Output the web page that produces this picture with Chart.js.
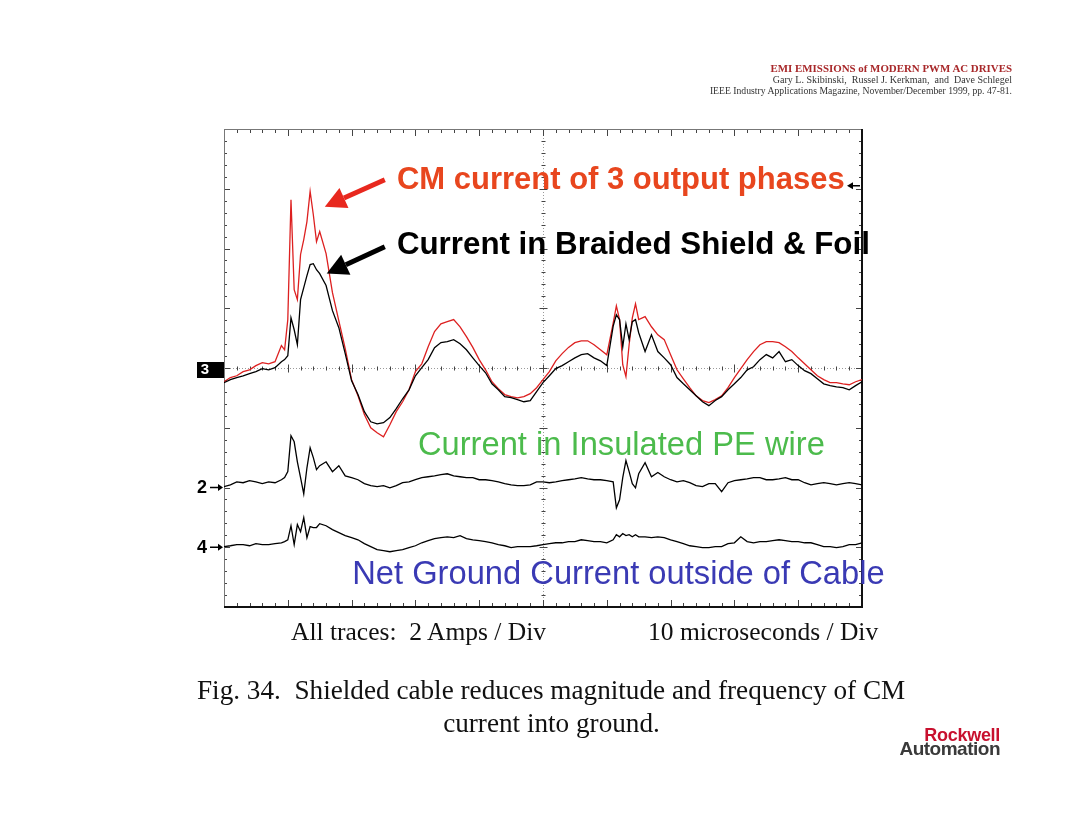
<!DOCTYPE html>
<html>
<head>
<meta charset="utf-8">
<script src="https://cdn.jsdelivr.net/npm/chart.js@4"></script>
<style>
  html, body { margin: 0; padding: 0; background: #fff; }
  #wrap { position: relative; width: 1080px; height: 834px; overflow: hidden; }
  #scope { position: absolute; left: 0; top: 0; }
  .txt { position: absolute; white-space: pre; line-height: 1; }
  .serif { font-family: "Liberation Serif", "Times New Roman", serif; }
  .sans { font-family: "Liberation Sans", Arial, sans-serif; }
</style>
</head>
<body>
<div id="wrap">
  <canvas id="scope" width="1080" height="834"></canvas>

  <div class="txt serif" style="right:68px; top:63px; font-size:10.9px; font-weight:bold; color:#a8282a;">EMI EMISSIONS of MODERN PWM AC DRIVES</div>
  <div class="txt serif" style="right:68px; top:74.5px; font-size:10px; color:#333;">Gary L. Skibinski,  Russel J. Kerkman,  and  Dave Schlegel</div>
  <div class="txt serif" style="right:68px; top:85.5px; font-size:9.7px; color:#333;">IEEE Industry Applications Magazine, November/December 1999, pp. 47-81.</div>

  <div class="txt serif" style="left:291px; top:619px; font-size:25.5px; color:#111;">All traces:  2 Amps / Div</div>
  <div class="txt serif" style="left:648px; top:619px; font-size:25.5px; color:#111;">10 microseconds / Div</div>

  <div class="txt serif" style="left:197px; top:677px; font-size:27.2px; color:#111;">Fig. 34.  Shielded cable reduces magnitude and frequency of CM</div>
  <div class="txt serif" style="left:0; width:1103px; text-align:center; top:710px; font-size:27.2px; color:#111;">current into ground.</div>

  <div class="txt sans" style="right:80px; top:726px; font-size:18px; font-weight:bold; color:#c8102e; letter-spacing:-0.3px;">Rockwell</div>
  <div class="txt sans" style="right:80px; top:739px; font-size:19px; font-weight:bold; color:#3a3a3a; letter-spacing:-0.5px;">Automation</div>
</div>

<script>
// time axis, microseconds (10 us / div, 10 divisions)
const times = [0,1,2,3,4,5,6,7,8,9,9.5,10,10.5,11,11.5,12,12.5,13,13.5,14,14.5,15,
  16,17,18,19,20,21,22,23,24,25,26,27,28,29,30,31,32,33,34,35,36,37,38,39,40,
  41,42,43,44,45,46,47,48,49,50,51,52,53,54,55,56,57,58,59,60,
  61,61.5,62,62.5,63,63.5,64,64.5,65,
  66,67,68,69,70,71,72,73,74,75,76,77,78,79,80,81,82,83,84,85,
  86,87,88,89,90,91,92,93,94,95,96,97,98,99,100];

// currents in amps
const cmCurrent = [-0.46,-0.32,-0.26,-0.12,-0.06,0.08,0.18,0.14,0.21,0.75,
  0.61,
  1.62,5.63,2.62,2.29,3.80,4.30,4.90,5.91,5.13,4.23,
  4.57,
  3.83,2.52,1.58,0.65,-0.39,-0.93,-1.56,-2.00,-2.17,-2.30,
  -1.90,-1.46,-1.13,-0.73,-0.12,0.14,0.71,1.22,1.48,1.55,
  1.62,1.38,1.05,0.69,0.28,-0.06,-0.46,-0.69,-0.89,-0.96,
  -1.00,-0.96,-0.86,-0.66,-0.39,-0.12,0.24,0.48,0.69,0.85,
  0.91,0.91,0.78,0.61,0.44,
  1.50,2.08,1.62,0.11,-0.29,0.78,1.68,2.15,
  1.62,
  1.72,1.38,1.11,0.95,0.44,-0.06,-0.36,-0.66,-0.93,-1.09,
  -1.16,-1.06,-0.93,-0.66,-0.32,-0.02,0.28,0.55,0.78,0.88,
  0.88,0.85,0.71,0.55,0.34,0.14,-0.06,-0.26,-0.39,-0.49,
  -0.49,-0.53,-0.56,-0.46,-0.39];

const shieldCurrent = [-0.49,-0.39,-0.32,-0.26,-0.19,-0.12,-0.02,-0.06,0.01,0.21,
  0.28,
  0.41,1.68,1.28,0.78,2.29,2.69,3.09,3.46,3.49,3.29,
  3.16,
  2.76,1.92,1.35,0.48,-0.43,-0.89,-1.46,-1.80,-1.87,-1.83,
  -1.66,-1.36,-1.03,-0.73,-0.26,0.01,0.28,0.68,0.85,0.88,
  0.95,0.81,0.61,0.34,0.08,-0.16,-0.53,-0.73,-0.96,-0.99,
  -1.06,-1.13,-1.09,-0.79,-0.49,-0.26,-0.02,0.08,0.21,0.34,
  0.45,0.48,0.34,0.24,0.08,
  1.40,1.78,1.62,0.71,1.48,0.95,1.55,1.62,
  1.18,
  0.55,1.11,0.55,0.34,0.11,-0.32,-0.53,-0.73,-0.93,-1.13,
  -1.26,-1.09,-0.96,-0.73,-0.53,-0.32,-0.06,0.04,0.28,0.45,
  0.34,0.55,0.21,0.28,0.08,-0.09,-0.19,-0.36,-0.53,-0.59,
  -0.63,-0.66,-0.73,-0.59,-0.46];

const peWireCurrent = [0.03,0.09,0.19,0.16,0.23,0.19,0.13,0.19,0.16,0.26,
  0.33,
  0.53,1.73,1.53,0.86,0.33,-0.21,0.66,1.33,1.00,0.60,
  0.73,
  0.86,0.53,0.73,0.39,0.33,0.26,0.13,0.06,0.03,0.06,
  -0.01,0.06,0.16,0.19,0.26,0.33,0.36,0.39,0.43,0.46,
  0.39,0.36,0.33,0.33,0.26,0.26,0.23,0.19,0.13,0.09,
  0.06,0.06,0.09,0.19,0.19,0.16,0.19,0.23,0.26,0.29,
  0.33,0.29,0.26,0.26,0.23,
  0.19,-0.68,-0.41,0.33,0.90,0.53,0.13,-0.01,
  0.46,
  0.83,0.36,0.50,0.36,0.26,0.19,0.23,0.16,0.06,0.03,
  0.13,0.13,-0.14,0.16,0.23,0.26,0.29,0.33,0.33,0.26,
  0.26,0.29,0.33,0.26,0.26,0.16,0.09,0.13,0.16,0.13,
  0.09,0.13,0.16,0.13,0.09];

const netGroundCurrent = [0.02,0.05,0.09,0.09,0.05,0.12,0.09,0.09,0.12,0.15,
  0.19,
  0.25,0.72,0.09,0.76,0.52,0.99,0.32,0.69,0.66,0.66,
  0.79,
  0.72,0.59,0.49,0.39,0.32,0.25,0.12,0.02,-0.08,-0.11,
  -0.15,-0.11,-0.08,-0.01,0.05,0.15,0.22,0.29,0.32,0.35,
  0.32,0.39,0.29,0.25,0.22,0.19,0.15,0.09,0.05,-0.01,
  0.02,0.02,0.02,0.05,0.09,0.12,0.15,0.15,0.19,0.19,
  0.25,0.22,0.19,0.19,0.15,
  0.25,0.42,0.35,0.46,0.39,0.42,0.35,0.42,
  0.35,
  0.35,0.32,0.35,0.32,0.25,0.19,0.12,0.05,0.02,-0.01,
  -0.01,0.02,0.02,0.12,0.15,0.35,0.19,0.15,0.19,0.19,
  0.22,0.25,0.22,0.19,0.19,0.15,0.15,0.09,0.02,0.02,
  -0.01,0.02,0.09,0.09,0.15];

// scope settings
const ampsPerDiv = 2;
const ch3Ref = 0;    // divisions from screen centre
const ch2Ref = -2;
const ch4Ref = -3;
const trigLevel = 3.05;

function trace(values, ref) {
  return times.map((t, i) => ({ x: t, y: ref + values[i] / ampsPerDiv }));
}

// labels and arrows, placed in (us, div) units
const labels = [
  { text: 'CM current of 3 output phases', t: 27.1, v: 3.0, font: 'bold 31px "Liberation Sans", Arial, sans-serif', color: '#e8461e' },
  { text: 'Current in Braided Shield & Foil', t: 27.1, v: 1.91, font: 'bold 31.3px "Liberation Sans", Arial, sans-serif', color: '#000' },
  { text: 'Current in Insulated PE wire', t: 30.4, v: -1.45, font: '32.7px "Liberation Sans", Arial, sans-serif', color: '#4cbb4c' },
  { text: 'Net Ground Current outside of Cable', t: 20.1, v: -3.61, font: '32.7px "Liberation Sans", Arial, sans-serif', color: '#3a3ab4' }
];
const arrows = [
  { from: [25.2, 3.15], to: [15.8, 2.70], color: '#e8281e' },
  { from: [25.2, 2.03], to: [16.1, 1.58], color: '#000' }
];

const scopeGrid = {
  id: 'scopeGrid',
  beforeDatasetsDraw(chart) {
    const { ctx, chartArea: a, scales: { x, y } } = chart;
    const seg = (x1, y1, x2, y2) => { ctx.moveTo(x1, y1); ctx.lineTo(x2, y2); };
    const cx = Math.round(x.getPixelForValue(50)) + 0.5;
    const cy = Math.round(y.getPixelForValue(0)) + 0.5;
    ctx.save();
    ctx.lineWidth = 1;

    ctx.strokeStyle = '#9a9a9a';
    ctx.setLineDash([1, 2]);
    ctx.beginPath();
    seg(a.left, cy, a.right, cy);
    seg(cx, a.top, cx, a.bottom);
    ctx.stroke();
    ctx.setLineDash([]);

    ctx.strokeStyle = '#444';
    ctx.beginPath();
    for (let k = 0; k <= 50; k++) {
      const px = Math.round(x.getPixelForValue(k * 2)) + 0.5;
      const major = k % 5 === 0;
      const len = major ? 7 : 4;
      seg(px, a.top, px, a.top + len);
      seg(px, a.bottom, px, a.bottom - len);
      seg(px, cy - (major ? 4 : 2), px, cy + (major ? 4 : 2));
    }
    for (let k = 0; k <= 40; k++) {
      const py = Math.round(y.getPixelForValue(-4 + k * 0.2)) + 0.5;
      const major = k % 5 === 0;
      const len = major ? 6 : 3;
      seg(a.left, py, a.left + len, py);
      seg(a.right, py, a.right - len, py);
      seg(cx - (major ? 4 : 2), py, cx + (major ? 4 : 2), py);
    }
    ctx.stroke();

    ctx.strokeStyle = '#777';
    ctx.beginPath();
    seg(a.left + 0.5, a.bottom, a.left + 0.5, a.top + 0.5);
    seg(a.left, a.top + 0.5, a.right, a.top + 0.5);
    ctx.stroke();
    ctx.strokeStyle = '#111';
    ctx.lineWidth = 2;
    ctx.beginPath();
    seg(a.right, a.top, a.right, a.bottom);
    seg(a.left, a.bottom, a.right + 1, a.bottom);
    ctx.stroke();
    ctx.restore();
  }
};

const scopeNotes = {
  id: 'scopeNotes',
  afterDatasetsDraw(chart) {
    const { ctx, scales: { x, y } } = chart;
    ctx.save();
    ctx.textBaseline = 'alphabetic';
    labels.forEach(l => {
      ctx.font = l.font;
      ctx.fillStyle = l.color;
      ctx.fillText(l.text, x.getPixelForValue(l.t), y.getPixelForValue(l.v));
    });
    arrows.forEach(ar => {
      const x1 = x.getPixelForValue(ar.from[0]), y1 = y.getPixelForValue(ar.from[1]);
      const x2 = x.getPixelForValue(ar.to[0]), y2 = y.getPixelForValue(ar.to[1]);
      const len = Math.hypot(x2 - x1, y2 - y1);
      const ux = (x2 - x1) / len, uy = (y2 - y1) / len;
      const hl = 21, hw = 11;
      const bx = x2 - ux * hl, by = y2 - uy * hl;
      ctx.strokeStyle = ar.color;
      ctx.fillStyle = ar.color;
      ctx.lineWidth = 5;
      ctx.beginPath();
      ctx.moveTo(x1, y1);
      ctx.lineTo(bx, by);
      ctx.stroke();
      ctx.beginPath();
      ctx.moveTo(x2, y2);
      ctx.lineTo(bx - uy * hw, by + ux * hw);
      ctx.lineTo(bx + uy * hw, by - ux * hw);
      ctx.closePath();
      ctx.fill();
    });
    ctx.restore();
  },
  afterDraw(chart) {
    const { ctx, chartArea: a, scales: { y } } = chart;
    ctx.save();
    // channel 3 ground marker
    const y3 = y.getPixelForValue(ch3Ref);
    ctx.fillStyle = '#000';
    ctx.fillRect(197, y3 - 6, a.left - 197, 16);
    ctx.fillStyle = '#fff';
    ctx.font = 'bold 15px "Liberation Sans", Arial, sans-serif';
    ctx.textAlign = 'center';
    ctx.textBaseline = 'middle';
    ctx.fillText('3', 205, y3 + 2);

    // channel 2 and 4 markers
    ctx.fillStyle = '#000';
    ctx.strokeStyle = '#000';
    ctx.font = 'bold 18px "Liberation Sans", Arial, sans-serif';
    ctx.textAlign = 'left';
    ctx.textBaseline = 'middle';
    [['2', ch2Ref], ['4', ch4Ref]].forEach(([n, ref]) => {
      const py = y.getPixelForValue(ref);
      ctx.fillText(n, 197, py + 1);
      ctx.lineWidth = 1.5;
      ctx.beginPath();
      ctx.moveTo(210, py);
      ctx.lineTo(a.left - 3, py);
      ctx.stroke();
      ctx.beginPath();
      ctx.moveTo(a.left - 1, py);
      ctx.lineTo(a.left - 6, py - 3.5);
      ctx.lineTo(a.left - 6, py + 3.5);
      ctx.closePath();
      ctx.fill();
    });

    // trigger level marker on the right edge
    const pt = y.getPixelForValue(trigLevel);
    ctx.lineWidth = 1.5;
    ctx.beginPath();
    ctx.moveTo(a.right - 2, pt);
    ctx.lineTo(a.right - 12, pt);
    ctx.stroke();
    ctx.beginPath();
    ctx.moveTo(a.right - 15, pt);
    ctx.lineTo(a.right - 9, pt - 3.5);
    ctx.lineTo(a.right - 9, pt + 3.5);
    ctx.closePath();
    ctx.fill();
    ctx.restore();
  }
};

const ctx = document.getElementById('scope').getContext('2d');
const chart = new Chart(ctx, {
  type: 'line',
  data: {
    datasets: [
      {
        label: 'Current in Braided Shield & Foil',
        data: trace(shieldCurrent, ch3Ref),
        borderColor: '#000',
        order: 1,
      },
      {
        label: 'CM current of 3 output phases',
        data: trace(cmCurrent, ch3Ref),
        borderColor: '#dd2020',
        order: 2,
      },
      {
        label: 'Current in Insulated PE wire',
        data: trace(peWireCurrent, ch2Ref),
        borderColor: '#000',
        order: 3,
      },
      {
        label: 'Net Ground Current outside of Cable',
        data: trace(netGroundCurrent, ch4Ref),
        borderColor: '#000',
        order: 4,
      },
    ],
  },
  options: {
    responsive: false,
    animation: false,
    layout: { padding: { left: 224, right: 218, top: 129, bottom: 227 } },
    elements: {
      line: { borderWidth: 1.3, tension: 0, fill: false },
      point: { radius: 0 }
    },
    plugins: {
      legend: { display: false },
      tooltip: { enabled: false }
    },
    scales: {
      x: { type: 'linear', min: 0, max: 100, display: false },
      y: { type: 'linear', min: -4, max: 4, display: false }
    }
  },
  plugins: [scopeGrid, scopeNotes]
});
</script>
</body>
</html>
